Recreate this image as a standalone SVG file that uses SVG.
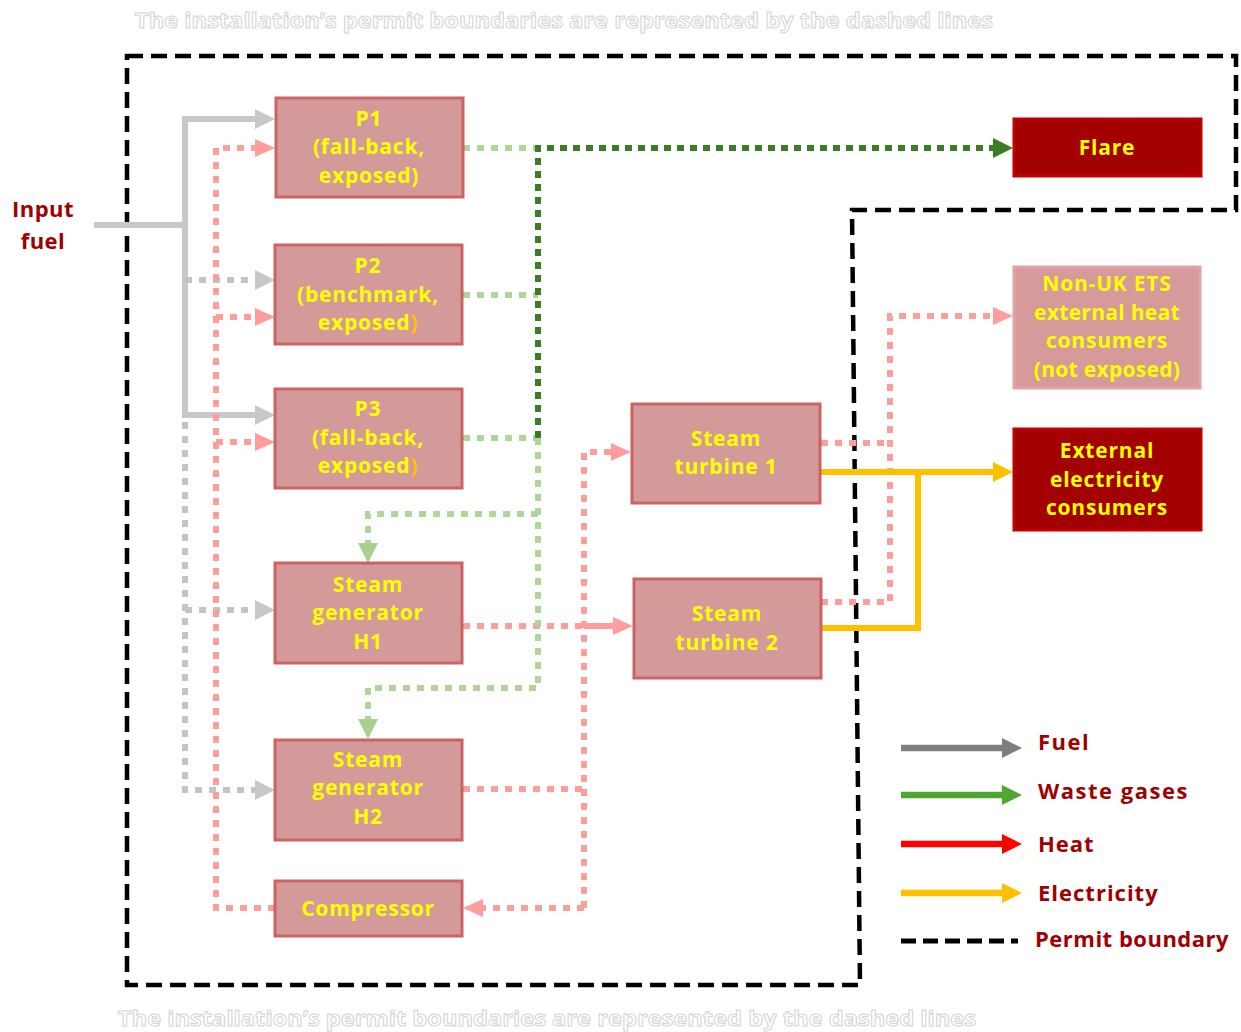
<svg xmlns="http://www.w3.org/2000/svg" width="1241" height="1032" viewBox="0 0 1241 1032">
<defs>
<style>
.box{fill:#d49a9a;stroke:#cc6262;stroke-width:3}
.dark{fill:#a30000;stroke:#c00000;stroke-width:3}
.lbox{fill:#d69a9a;stroke:#e3a3a3;stroke-width:3}
.nt{font-family:"Open Sans","Liberation Sans",sans-serif;font-weight:bold;font-size:21px;letter-spacing:0.8px;fill:#ffff00;text-anchor:middle}
.lt{font-family:"Open Sans","Liberation Sans",sans-serif;font-weight:bold;font-size:22px;letter-spacing:1px;fill:#a00000}
.cap{font-family:"Open Sans","Liberation Sans",sans-serif;font-weight:bold;font-size:22px;fill:#ffffff;stroke:#d4d4d4;stroke-width:1}
.c{fill:none}
.fuel{stroke:#c8c8c8;stroke-width:6}
.fueld{stroke:#c4c4c4;stroke-width:6;stroke-dasharray:7 7}
.heat{stroke:#ff9c9c;stroke-width:6;stroke-dasharray:7 7}
.heats{stroke:#ff9c9c;stroke-width:6}
.wg{stroke:#b0d59a;stroke-width:6;stroke-dasharray:7 7}
.wgd{stroke:#3b7d23;stroke-width:6;stroke-dasharray:7 6}
.el{stroke:#ffc000;stroke-width:6}
.bnd{fill:none;stroke:#000;stroke-width:4.5;stroke-dasharray:16 8}
</style>
<marker id="aFuel" viewBox="0 0 20 20" refX="0" refY="10" markerWidth="20" markerHeight="20" markerUnits="userSpaceOnUse" orient="auto"><path d="M0,0 L20,10 L0,20 z" fill="#c8c8c8"/></marker>
<marker id="aHeat" viewBox="0 0 20 20" refX="0" refY="10" markerWidth="20" markerHeight="20" markerUnits="userSpaceOnUse" orient="auto"><path d="M0,1 L20,10 L0,19 z" fill="#ff9c9c"/></marker>
<marker id="aWg" viewBox="0 0 20 20" refX="0" refY="10" markerWidth="20" markerHeight="20" markerUnits="userSpaceOnUse" orient="auto"><path d="M0,0 L20,10 L0,20 z" fill="#a9d18e"/></marker>
<marker id="aWgd" viewBox="0 0 20 20" refX="0" refY="10" markerWidth="20" markerHeight="20" markerUnits="userSpaceOnUse" orient="auto"><path d="M0,0 L20,10 L0,20 z" fill="#3b7d23"/></marker>
<marker id="aEl" viewBox="0 0 20 20" refX="0" refY="10" markerWidth="20" markerHeight="20" markerUnits="userSpaceOnUse" orient="auto"><path d="M0,0 L20,10 L0,20 z" fill="#ffc000"/></marker>
<marker id="lGray" viewBox="0 0 20 20" refX="0" refY="10" markerWidth="20" markerHeight="20" markerUnits="userSpaceOnUse" orient="auto"><path d="M0,0 L20,10 L0,20 z" fill="#7f7f7f"/></marker>
<marker id="lGreen" viewBox="0 0 20 20" refX="0" refY="10" markerWidth="20" markerHeight="20" markerUnits="userSpaceOnUse" orient="auto"><path d="M0,0 L20,10 L0,20 z" fill="#4ea72e"/></marker>
<marker id="lRed" viewBox="0 0 20 20" refX="0" refY="10" markerWidth="20" markerHeight="20" markerUnits="userSpaceOnUse" orient="auto"><path d="M0,0 L20,10 L0,20 z" fill="#ff0000"/></marker>
<marker id="lYellow" viewBox="0 0 20 20" refX="0" refY="10" markerWidth="20" markerHeight="20" markerUnits="userSpaceOnUse" orient="auto"><path d="M0,0 L20,10 L0,20 z" fill="#ffc000"/></marker>
</defs>
<rect width="1241" height="1032" fill="#ffffff"/>

<text class="cap" x="135" y="28" textLength="858" lengthAdjust="spacingAndGlyphs">The installation’s permit boundaries are represented by the dashed lines</text>
<text class="cap" x="118" y="1026" textLength="858" lengthAdjust="spacingAndGlyphs">The installation’s permit boundaries are represented by the dashed lines</text>

<g id="boundary">
<path class="bnd" d="M127,56 H1236 V210 H852 L860,985 H127 Z"/>
</g>

<g id="connectors" class="c">
<!-- fuel -->
<path class="c fuel" d="M94,225 H185"/>
<path class="c fuel" d="M185,225 V119 H255" marker-end="url(#aFuel)"/>
<path class="c fuel" d="M185,225 V415 H255" marker-end="url(#aFuel)"/>
<path class="c fueld" d="M185,280 H255" marker-end="url(#aFuel)"/>
<path class="c fueld" d="M185,422 V790 H255" marker-end="url(#aFuel)"/>
<path class="c fueld" d="M185,610 H255" marker-end="url(#aFuel)"/>
<!-- heat -->
<path class="c heat" d="M275,908 H216 V148 H255" marker-end="url(#aHeat)"/>
<path class="c heat" d="M216,317 H255" marker-end="url(#aHeat)"/>
<path class="c heat" d="M216,442 H255" marker-end="url(#aHeat)"/>
<path class="c heat" d="M463,626 H584"/>
<path class="c heats" d="M584,626 H613" marker-end="url(#aHeat)"/>
<path class="c heat" d="M463,789 H584"/>
<path class="c heat" d="M584,908 V452 H611" marker-end="url(#aHeat)"/>
<path class="c heat" d="M584,908 H483" marker-end="url(#aHeat)"/>
<path class="c heat" d="M821,443 H890"/>
<path class="c heat" d="M821,602 H890 V316 H993" marker-end="url(#aHeat)"/>
<!-- waste gases -->
<path class="c wg" d="M463,148 H538"/>
<path class="c wg" d="M463,295 H538"/>
<path class="c wg" d="M463,438 H538"/>
<path class="c wg" d="M538,438 V688 H368 V719" marker-end="url(#aWg)"/>
<path class="c wg" d="M538,514 H368 V543" marker-end="url(#aWg)"/>
<path class="c wgd" d="M538,438 V148 H993" marker-end="url(#aWgd)"/>
<!-- electricity -->
<path class="c el" d="M821,472 H993" marker-end="url(#aEl)"/>
<path class="c el" d="M821,628 H918 V472"/>
</g>

<g id="input-fuel">
<text class="lt" x="43" y="217" text-anchor="middle" style="letter-spacing:0.5px">Input</text>
<text class="lt" x="43" y="249" text-anchor="middle" style="letter-spacing:0.5px">fuel</text>
</g>

<g id="P1">
<rect class="box" x="276" y="98" width="187" height="99"/>
<text class="nt" x="369" y="126">P1</text>
<text class="nt" x="369" y="154">(fall-back,</text>
<text class="nt" x="369" y="183">exposed)</text>
</g>
<g id="P2">
<rect class="box" x="275" y="245" width="187" height="99"/>
<text class="nt" x="368" y="273">P2</text>
<text class="nt" x="368" y="302">(benchmark,</text>
<text class="nt" x="368" y="330">exposed<tspan fill="#ffc000">)</tspan></text>
</g>
<g id="P3">
<rect class="box" x="275" y="389" width="187" height="99"/>
<text class="nt" x="368" y="416">P3</text>
<text class="nt" x="368" y="445">(fall-back,</text>
<text class="nt" x="368" y="473">exposed<tspan fill="#ffc000">)</tspan></text>
</g>
<g id="H1">
<rect class="box" x="275" y="563" width="187" height="100"/>
<text class="nt" x="368" y="592">Steam</text>
<text class="nt" x="368" y="620">generator</text>
<text class="nt" x="368" y="649">H1</text>
</g>
<g id="H2">
<rect class="box" x="275" y="740" width="187" height="100"/>
<text class="nt" x="368" y="767">Steam</text>
<text class="nt" x="368" y="795">generator</text>
<text class="nt" x="368" y="824">H2</text>
</g>
<g id="compressor">
<rect class="box" x="275" y="881" width="187" height="55"/>
<text class="nt" x="368" y="916">Compressor</text>
</g>
<g id="ST1">
<rect class="box" x="632" y="404" width="188" height="99"/>
<text class="nt" x="726" y="446">Steam</text>
<text class="nt" x="726" y="474">turbine 1</text>
</g>
<g id="ST2">
<rect class="box" x="634" y="579" width="187" height="99"/>
<text class="nt" x="727" y="621">Steam</text>
<text class="nt" x="727" y="650">turbine 2</text>
</g>
<g id="flare">
<rect class="dark" x="1014" y="119" width="187" height="57"/>
<text class="nt" x="1107" y="155">Flare</text>
</g>
<g id="non-uk-ets">
<rect class="lbox" x="1014" y="267" width="186" height="121"/>
<text class="nt" x="1107" y="291">Non-UK ETS</text>
<text class="nt" x="1107" y="320" style="letter-spacing:0.3px">external heat</text>
<text class="nt" x="1107" y="348">consumers</text>
<text class="nt" x="1107" y="377" style="letter-spacing:0.3px">(not exposed)</text>
</g>
<g id="ext-electricity">
<rect class="dark" x="1014" y="429" width="187" height="101"/>
<text class="nt" x="1107" y="458">External</text>
<text class="nt" x="1107" y="487">electricity</text>
<text class="nt" x="1107" y="515">consumers</text>
</g>

<g id="legend">
<path d="M901,748 H1002" stroke="#7f7f7f" stroke-width="6.5" fill="none" marker-end="url(#lGray)"/>
<path d="M901,795 H1002" stroke="#4ea72e" stroke-width="6.5" fill="none" marker-end="url(#lGreen)"/>
<path d="M901,844 H1002" stroke="#ff0000" stroke-width="6.5" fill="none" marker-end="url(#lRed)"/>
<path d="M901,893 H1002" stroke="#ffc000" stroke-width="6.5" fill="none" marker-end="url(#lYellow)"/>
<path d="M901,941 H1018" stroke="#000" stroke-width="5" fill="none" stroke-dasharray="15 7"/>
<text class="lt" x="1038" y="750" style="letter-spacing:1.5px">Fuel</text>
<text class="lt" x="1038" y="799" style="letter-spacing:1.5px">Waste gases</text>
<text class="lt" x="1038" y="852">Heat</text>
<text class="lt" x="1038" y="901">Electricity</text>
<text class="lt" x="1035" y="947" style="letter-spacing:0.5px">Permit boundary</text>
</g>
</svg>
